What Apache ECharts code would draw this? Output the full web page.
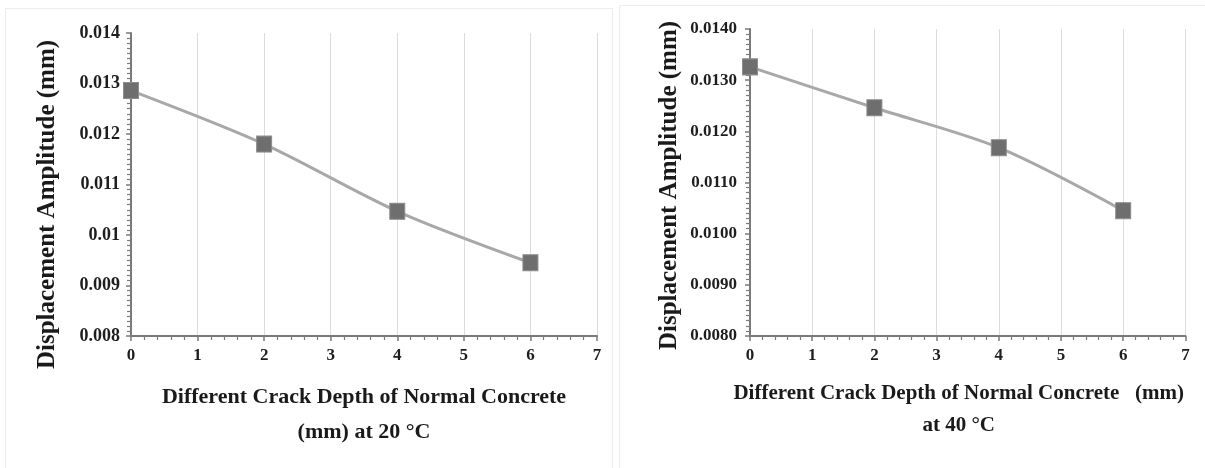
<!DOCTYPE html>
<html>
<head>
<meta charset="utf-8">
<script src="https://cdn.jsdelivr.net/npm/echarts@6/dist/echarts.min.js"></script>
<style>html,body{margin:0;padding:0;background:#fff}#c{width:1205px;height:468px}</style>
</head>
<body>
<div id="c"></div>
<script>
// Data
const crackDepth = [0, 2, 4, 6];
const amp20 = [0.01286, 0.01180, 0.01047, 0.00945];
const amp40 = [0.01326, 0.01246, 0.01168, 0.01045];
const yTicks20 = ['0.008', '0.009', '0.01', '0.011', '0.012', '0.013', '0.014'];
const yTicks40 = ['0.0080', '0.0090', '0.0100', '0.0110', '0.0120', '0.0130', '0.0140'];
const xTicks = ['0', '1', '2', '3', '4', '5', '6', '7'];
const xTitle20 = 'Different Crack Depth of Normal Concrete\n(mm) at 20 \u00B0C';
const xTitle40 = 'Different Crack Depth of Normal Concrete   (mm)\nat 40 \u00B0C';
const yTitle = 'Displacement Amplitude (mm)';

const FONT = '"Liberation Serif", "Times New Roman", serif';
const axisCol = '#7a7a7a';

function xAxisCfg(gridIndex, title, fs, lh, gap, pad) {
  return {
    type: 'value', gridIndex, min: 0, max: 7, interval: 1,
    axisLine: { show: true, lineStyle: { color: axisCol, width: 2 } },
    axisTick: { show: true, length: 5, lineStyle: { color: axisCol, width: 1.5 } },
    minorTick: { show: true, splitNumber: 5, length: 4, lineStyle: { color: axisCol, width: 1.2 } },
    splitLine: { show: true, lineStyle: { color: '#dcdcdc', width: 1 } },
    axisLabel: { margin: 11, fontFamily: FONT, fontWeight: 'bold', fontSize: 17, color: '#1e1e1e',
      formatter: v => xTicks[Math.round(v)] },
    name: title, nameLocation: 'middle', nameGap: gap,
    nameTextStyle: { fontFamily: FONT, fontWeight: 'bold', fontSize: fs, color: '#1a1a1a', lineHeight: lh, verticalAlign: 'top', padding: pad }
  };
}
function yAxisCfg(gridIndex, ticks, fs, margin, gap, pad) {
  return {
    type: 'value', gridIndex, min: 0.008, max: 0.014, interval: 0.001,
    axisLine: { show: true, lineStyle: { color: axisCol, width: 2 } },
    axisTick: { show: true, length: 5, lineStyle: { color: axisCol, width: 1.5 } },
    minorTick: { show: true, splitNumber: 10, length: 4, lineStyle: { color: axisCol, width: 1.2 } },
    splitLine: { show: false },
    axisLabel: { margin, fontFamily: FONT, fontWeight: 'bold', fontSize: fs, color: '#1e1e1e',
      formatter: v => ticks[Math.round((v - 0.008) / 0.001)] },
    name: yTitle, nameLocation: 'middle', nameGap: gap, nameRotate: 90,
    nameTextStyle: { fontFamily: FONT, fontWeight: 'bold', fontSize: 25, color: '#1a1a1a', padding: pad }
  };
}
function seriesCfg(idx, vals) {
  return {
    type: 'line', xAxisIndex: idx, yAxisIndex: idx,
    data: crackDepth.map((x, i) => [x, vals[i]]),
    smooth: 0.3, symbol: 'rect', symbolSize: [15, 16],
    lineStyle: { color: '#a8a8a8', width: 3 },
    itemStyle: { color: '#6e6e6e', borderColor: '#8c8c8c', borderWidth: 1 },
    z: 5
  };
}

const chart = echarts.init(document.getElementById('c'), null, { renderer: 'canvas' });
chart.setOption({
  animation: false,
  backgroundColor: '#fff',
  graphic: [
    { type: 'rect', shape: { x: 5.5, y: 8.5, width: 607, height: 470 }, style: { fill: 'none', stroke: '#ececec', lineWidth: 1 }, silent: true },
    { type: 'rect', shape: { x: 619.5, y: 5.5, width: 600, height: 470 }, style: { fill: 'none', stroke: '#ececec', lineWidth: 1 }, silent: true }
  ],
  grid: [
    { left: 131, right: 1205 - 597, top: 33, bottom: 468 - 336 },
    { left: 750, right: 1205 - 1186, top: 29, bottom: 468 - 336 }
  ],
  xAxis: [
    xAxisCfg(0, xTitle20, 22, 35, 44, [0, 0, 0, 0]),
    xAxisCfg(1, xTitle40, 21, 32, 42, [0, 18, 0, 0])
  ],
  yAxis: [
    yAxisCfg(0, yTicks20, 18, 11, 71, [0, 40, 0, 0]),
    yAxisCfg(1, yTicks40, 17, 13, 68, [0, 6, 0, 0])
  ],
  series: [seriesCfg(0, amp20), seriesCfg(1, amp40)]
});
</script>
</body>
</html>
